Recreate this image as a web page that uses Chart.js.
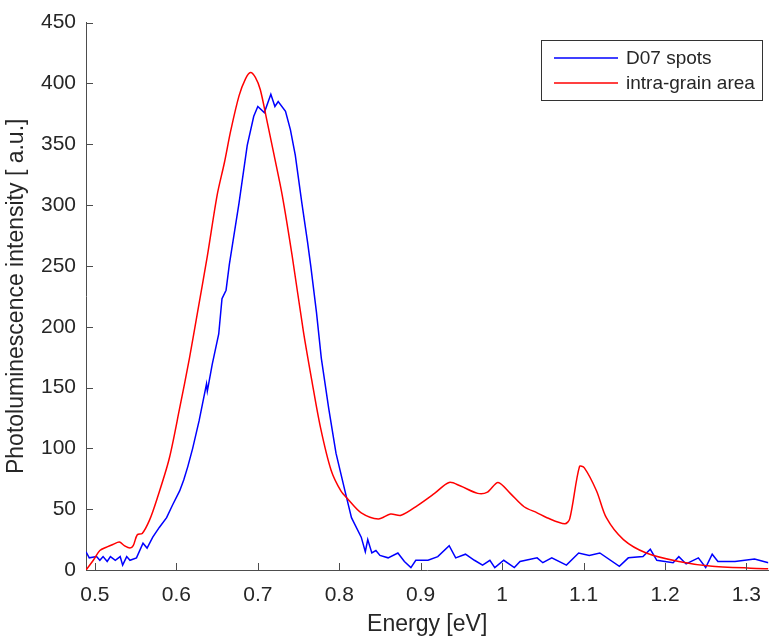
<!DOCTYPE html>
<html>
<head>
<meta charset="utf-8">
<script src="https://cdn.jsdelivr.net/npm/chart.js@4.4.1/dist/chart.umd.min.js"></script>
<style>
  html, body { margin: 0; padding: 0; background: #fff; }
  #wrap { width: 774px; height: 639px; }
</style>
</head>
<body>
<div id="wrap"><canvas id="plChart" width="774" height="639"></canvas></div>
<script>
const seriesNames = ['D07 spots', 'intra-grain area'];

// D07 spots (blue)
const energyD07 = [0.489, 0.493, 0.502, 0.506, 0.510, 0.515, 0.519, 0.525, 0.531, 0.534, 0.539, 0.543, 0.551, 0.559, 0.564,
  0.571, 0.579, 0.588, 0.595, 0.604, 0.609, 0.614, 0.620, 0.628, 0.637, 0.638, 0.644, 0.652, 0.656, 0.661, 0.665, 0.677, 0.687,
  0.695, 0.700, 0.708, 0.716, 0.721, 0.725, 0.734, 0.740, 0.746, 0.754, 0.761, 0.765, 0.772, 0.778, 0.787, 0.796, 0.807,
  0.815, 0.827, 0.832, 0.835, 0.840, 0.845, 0.850, 0.860, 0.872, 0.880, 0.888, 0.894, 0.909, 0.921, 0.935, 0.943, 0.955,
  0.966, 0.976, 0.985, 0.991, 1.002, 1.015, 1.022, 1.043, 1.050, 1.061, 1.079, 1.094, 1.107, 1.120, 1.144, 1.155, 1.173,
  1.182, 1.190, 1.210, 1.217, 1.226, 1.241, 1.250, 1.258, 1.265, 1.286, 1.310, 1.327];
const intensityD07 = [15, 10, 11, 8, 11, 7, 11, 8, 11, 4, 11, 8, 10, 22, 18,
  27, 35, 43, 53, 65, 74, 85, 100, 123, 153, 147, 169, 194, 223, 230, 251, 302, 349,
  373, 381, 376, 391, 381, 385, 377, 362, 341, 302, 270, 250, 212, 174, 133, 96, 65,
  43, 27, 15, 25, 14, 16, 12, 10, 14, 7, 2, 8, 8, 11, 20, 10, 13,
  8, 4, 8, 2, 8, 2, 7, 10, 6, 10, 4, 14, 12, 14, 3, 10, 11,
  17, 8, 6, 11, 5, 10, 2, 13, 7, 7, 9, 6];

// intra-grain area (red)
const energyIntra = [0.489, 0.498, 0.506, 0.515, 0.522, 0.530, 0.536, 0.543, 0.547, 0.552, 0.558, 0.567, 0.576, 0.591,
  0.604, 0.616, 0.626, 0.638, 0.650, 0.659, 0.667, 0.677, 0.685, 0.691, 0.697, 0.703, 0.711, 0.720, 0.730, 0.742,
  0.756, 0.766, 0.777, 0.790, 0.802, 0.811, 0.827, 0.848, 0.863, 0.876, 0.896, 0.917, 0.935, 0.949, 0.970, 0.982, 0.995,
  1.010, 1.027, 1.043, 1.055, 1.077, 1.083, 1.095, 1.101, 1.116, 1.128, 1.149, 1.177, 1.217, 1.258, 1.327];
const intensityIntra = [0, 8, 16, 19, 21, 23, 20, 18, 20, 29, 30, 41, 58, 91,
  133, 174, 212, 258, 308, 335, 362, 390, 404, 409, 405, 395, 370, 341, 308, 259,
  196, 157, 117, 82, 65, 58, 47, 42, 46, 45, 53, 63, 72, 69, 63, 64, 72,
  63, 52, 47, 43, 38, 42, 85, 84, 65, 43, 25, 14, 7, 3, 1];

const xTicks = [0.5, 0.6, 0.7, 0.8, 0.9, 1.0, 1.1, 1.2, 1.3];
const xTickLabels = ['0.5', '0.6', '0.7', '0.8', '0.9', '1', '1.1', '1.2', '1.3'];
const yTicks = [0, 50, 100, 150, 200, 250, 300, 350, 400, 450];

const textColor = '#262626';
const axisColor = '#4d4d4d';
const fontFamily = '"Liberation Sans", Arial, Helvetica, sans-serif';

function toPoints(xs, ys) {
  return xs.map((x, i) => ({ x: x, y: ys[i] }));
}

// matlab-style ticks pointing into the plot
const inwardTicks = {
  id: 'inwardTicks',
  afterDraw(chart) {
    const { ctx, chartArea, scales } = chart;
    ctx.save();
    ctx.strokeStyle = axisColor;
    ctx.lineWidth = 1;
    ctx.beginPath();
    scales.x.ticks.forEach(t => {
      const px = Math.round(scales.x.getPixelForValue(t.value)) + 0.5;
      ctx.moveTo(px, chartArea.bottom);
      ctx.lineTo(px, chartArea.bottom - 7);
    });
    scales.y.ticks.forEach(t => {
      const py = Math.round(scales.y.getPixelForValue(t.value)) + 0.5;
      ctx.moveTo(chartArea.left, py);
      ctx.lineTo(chartArea.left + 7, py);
    });
    ctx.stroke();
    ctx.restore();
  }
};

// boxed legend in the top right corner
const boxLegend = {
  id: 'boxLegend',
  afterDatasetsDraw(chart) {
    const ctx = chart.ctx;
    const x0 = 541.5, y0 = 40.5, w = 221, h = 60;
    ctx.save();
    ctx.fillStyle = '#fff';
    ctx.fillRect(x0, y0, w, h);
    ctx.strokeStyle = '#333';
    ctx.lineWidth = 1;
    ctx.strokeRect(x0, y0, w, h);
    ctx.font = '19px ' + fontFamily;
    ctx.textBaseline = 'middle';
    chart.data.datasets.forEach((ds, i) => {
      const y = 58 + i * 25;
      ctx.strokeStyle = ds.borderColor;
      ctx.lineWidth = 1.5;
      ctx.beginPath();
      ctx.moveTo(554, y);
      ctx.lineTo(618, y);
      ctx.stroke();
      ctx.fillStyle = textColor;
      ctx.fillText(ds.label, 626, y + 1);
    });
    ctx.restore();
  }
};

const plConfig = {
  type: 'line',
  data: {
    datasets: [{
      label: seriesNames[0],
      data: toPoints(energyD07, intensityD07),
      borderColor: '#0000ff',
      borderWidth: 1.5,
      pointRadius: 0,
      fill: false,
      tension: 0,
      order: 2
    },
    {
      label: seriesNames[1],
      data: toPoints(energyIntra, intensityIntra),
      borderColor: '#ff0000',
      borderWidth: 1.5,
      pointRadius: 0,
      fill: false,
      tension: 0.3,
      order: 1
    }]
  },
  options: {
    responsive: false,
    animation: false,
    layout: { padding: { top: 19, right: 0, left: 0, bottom: 0 } },
    plugins: {
      legend: { display: false },
      tooltip: { enabled: false }
    },
    scales: {
      x: {
        type: 'linear',
        min: 0.489,
        max: 1.327,
        afterBuildTicks: scale => { scale.ticks = xTicks.map(v => ({ value: v })); },
        afterFit: scale => { scale.height = 69; },
        grid: { display: true, drawOnChartArea: false, drawTicks: false },
        border: { display: true, color: axisColor, width: 1 },
        ticks: {
          padding: 13,
          color: textColor,
          font: { family: fontFamily, size: 21 },
          maxRotation: 0,
          callback: (v, i) => xTickLabels[i]
        },
        title: {
          display: true,
          text: 'Energy [eV]',
          color: textColor,
          font: { family: fontFamily, size: 23 },
          padding: { top: 0, bottom: 1 }
        }
      },
      y: {
        type: 'linear',
        min: 0,
        max: 450,
        afterBuildTicks: scale => { scale.ticks = yTicks.map(v => ({ value: v })); },
        afterFit: scale => { scale.width = 86; },
        grid: { display: true, drawOnChartArea: false, drawTicks: false },
        border: { display: true, color: axisColor, width: 1 },
        ticks: {
          padding: 10,
          color: textColor,
          font: { family: fontFamily, size: 21 }
        },
        title: {
          display: true,
          text: 'Photoluminescence intensity [ a.u.]',
          color: textColor,
          font: { family: fontFamily, size: 23 },
          padding: { top: 3, bottom: 0 }
        }
      }
    }
  },
  plugins: [inwardTicks, boxLegend]
};

const plChart = new Chart(document.getElementById('plChart'), plConfig);
</script>
</body>
</html>
